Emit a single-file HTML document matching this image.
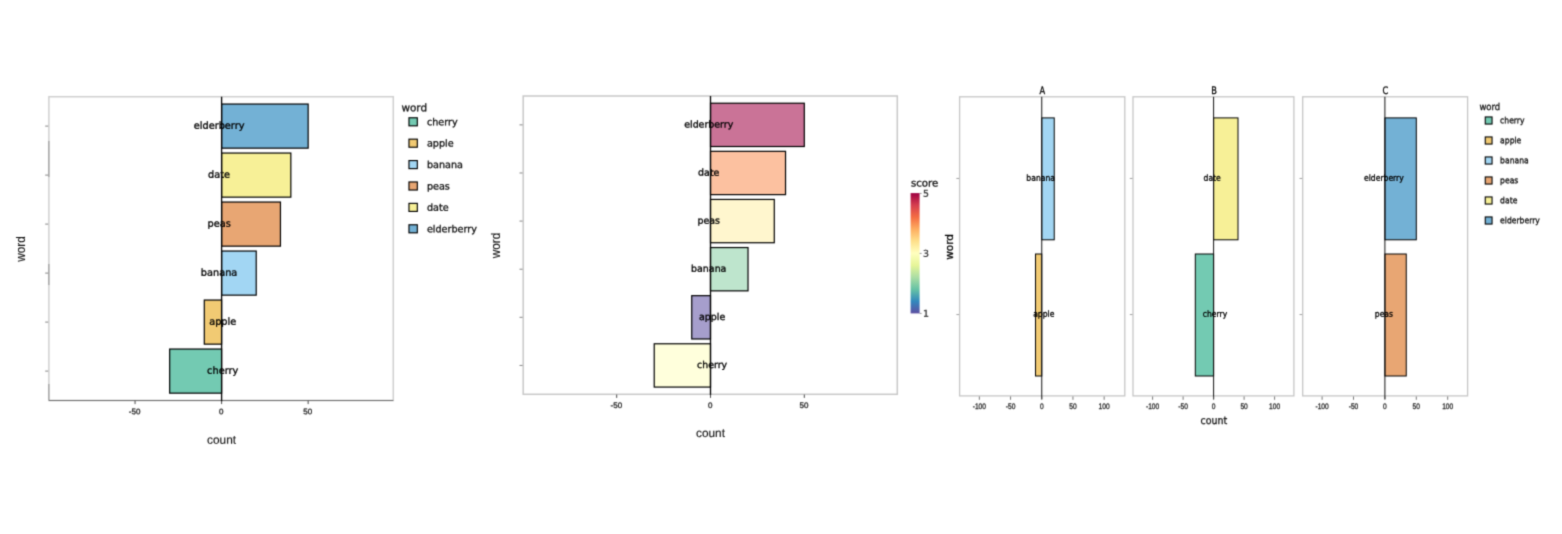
<!DOCTYPE html>
<html lang="en"><head><meta charset="utf-8"><title>Diverging bar charts</title>
<style>
html,body{margin:0;padding:0;background:#fff;}
body{width:1562px;height:534px;overflow:hidden;font-family:"Liberation Sans",sans-serif;}
svg{display:block;}
</style></head><body>
<svg width="1562" height="534" viewBox="0 0 1562 534">
<rect width="1562" height="534" fill="#fff"/>
<defs><filter id="soft" x="0" y="0" width="1562" height="534" filterUnits="userSpaceOnUse" color-interpolation-filters="sRGB"><feConvolveMatrix order="3" kernelMatrix="1 4 1 4 16 4 1 4 1" divisor="36" edgeMode="duplicate" preserveAlpha="true"/></filter></defs>
<g filter="url(#soft)">
<rect width="1562" height="534" fill="#fff"/>
<rect x="48.90" y="96.70" width="344.40" height="303.80" fill="#fff" stroke="#cfcfcf" stroke-width="1.5"/>
<line x1="45.20" y1="126.10" x2="48.20" y2="126.10" stroke="#666" stroke-width="0.8"/>
<line x1="45.20" y1="175.10" x2="48.20" y2="175.10" stroke="#666" stroke-width="0.8"/>
<line x1="45.20" y1="224.10" x2="48.20" y2="224.10" stroke="#666" stroke-width="0.8"/>
<line x1="45.20" y1="273.10" x2="48.20" y2="273.10" stroke="#666" stroke-width="0.8"/>
<line x1="45.20" y1="322.10" x2="48.20" y2="322.10" stroke="#666" stroke-width="0.8"/>
<line x1="45.20" y1="371.10" x2="48.20" y2="371.10" stroke="#666" stroke-width="0.8"/>
<line x1="48.90" y1="400.50" x2="393.30" y2="400.50" stroke="#666" stroke-width="0.9"/>
<line x1="48.90" y1="141.00" x2="48.90" y2="177.00" stroke="#777" stroke-width="0.7"/>
<line x1="48.90" y1="264.00" x2="48.90" y2="285.00" stroke="#777" stroke-width="0.7"/>
<line x1="48.90" y1="384.00" x2="48.90" y2="400.50" stroke="#777" stroke-width="0.7"/>
<rect x="221.60" y="104.05" width="86.55" height="44.10" fill="#73b1d5" stroke="#000" stroke-width="1.2"/>
<rect x="221.60" y="153.05" width="69.24" height="44.10" fill="#f7f097" stroke="#000" stroke-width="1.2"/>
<rect x="221.60" y="202.05" width="58.85" height="44.10" fill="#e8a673" stroke="#000" stroke-width="1.2"/>
<rect x="221.60" y="251.05" width="34.62" height="44.10" fill="#a2d6f3" stroke="#000" stroke-width="1.2"/>
<rect x="204.29" y="300.05" width="17.31" height="44.10" fill="#f1ca73" stroke="#000" stroke-width="1.2"/>
<rect x="169.67" y="349.05" width="51.93" height="44.10" fill="#73cab2" stroke="#000" stroke-width="1.2"/>
<line x1="221.60" y1="96.70" x2="221.60" y2="401.30" stroke="#000" stroke-width="1.3"/>
<text transform="translate(219.10,128.86) rotate(0.03)" font-size="9.75" font-family='"DejaVu Sans", "Liberation Sans", sans-serif' text-anchor="middle" fill="#000" stroke="#000" stroke-width="0.3">elderberry</text>
<text transform="translate(219.10,177.86) rotate(0.03)" font-size="9.75" font-family='"DejaVu Sans", "Liberation Sans", sans-serif' text-anchor="middle" fill="#000" stroke="#000" stroke-width="0.3">date</text>
<text transform="translate(219.10,226.86) rotate(0.03)" font-size="9.75" font-family='"DejaVu Sans", "Liberation Sans", sans-serif' text-anchor="middle" fill="#000" stroke="#000" stroke-width="0.3">peas</text>
<text transform="translate(219.10,275.86) rotate(0.03)" font-size="9.75" font-family='"DejaVu Sans", "Liberation Sans", sans-serif' text-anchor="middle" fill="#000" stroke="#000" stroke-width="0.3">banana</text>
<text transform="translate(222.70,324.86) rotate(0.03)" font-size="9.75" font-family='"DejaVu Sans", "Liberation Sans", sans-serif' text-anchor="middle" fill="#000" stroke="#000" stroke-width="0.3">apple</text>
<text transform="translate(222.70,373.86) rotate(0.03)" font-size="9.75" font-family='"DejaVu Sans", "Liberation Sans", sans-serif' text-anchor="middle" fill="#000" stroke="#000" stroke-width="0.3">cherry</text>
<line x1="135.05" y1="400.80" x2="135.05" y2="404.10" stroke="#333" stroke-width="0.9"/>
<text transform="translate(134.65,414.20) rotate(0.03)" font-size="8" font-family='"Liberation Sans", sans-serif' text-anchor="middle" fill="#222" stroke="#222" stroke-width="0.3">-50</text>
<line x1="221.60" y1="400.80" x2="221.60" y2="404.10" stroke="#333" stroke-width="0.9"/>
<text transform="translate(221.20,414.20) rotate(0.03)" font-size="8" font-family='"Liberation Sans", sans-serif' text-anchor="middle" fill="#222" stroke="#222" stroke-width="0.3">0</text>
<line x1="308.15" y1="400.80" x2="308.15" y2="404.10" stroke="#333" stroke-width="0.9"/>
<text transform="translate(307.75,414.20) rotate(0.03)" font-size="8" font-family='"Liberation Sans", sans-serif' text-anchor="middle" fill="#222" stroke="#222" stroke-width="0.3">50</text>
<text transform="translate(221.60,443.80) rotate(0.03)" font-size="11.85" font-family='"Liberation Sans", sans-serif' text-anchor="middle" fill="#111" stroke="#111" stroke-width="0.12">count</text>
<text transform="translate(25.30,249.00) rotate(-90)" font-size="11.85" font-family='"Liberation Sans", sans-serif' text-anchor="middle" fill="#111" stroke="#111" stroke-width="0.12">word</text>
<text transform="translate(401.40,111.20) rotate(0.03)" font-size="10.45" font-family='"DejaVu Sans", "Liberation Sans", sans-serif' text-anchor="start" fill="#111" stroke="#111" stroke-width="0.3">word</text>
<rect x="408.97" y="117.78" width="8.35" height="8.05" fill="#73cab2" stroke="#000" stroke-width="1.15"/>
<text transform="translate(426.90,125.20) rotate(0.03)" font-size="9.65" font-family='"DejaVu Sans", "Liberation Sans", sans-serif' text-anchor="start" fill="#111" stroke="#111" stroke-width="0.3">cherry</text>
<rect x="408.97" y="139.17" width="8.35" height="8.05" fill="#f1ca73" stroke="#000" stroke-width="1.15"/>
<text transform="translate(426.90,146.60) rotate(0.03)" font-size="9.65" font-family='"DejaVu Sans", "Liberation Sans", sans-serif' text-anchor="start" fill="#111" stroke="#111" stroke-width="0.3">apple</text>
<rect x="408.97" y="160.57" width="8.35" height="8.05" fill="#a2d6f3" stroke="#000" stroke-width="1.15"/>
<text transform="translate(426.90,168.00) rotate(0.03)" font-size="9.65" font-family='"DejaVu Sans", "Liberation Sans", sans-serif' text-anchor="start" fill="#111" stroke="#111" stroke-width="0.3">banana</text>
<rect x="408.97" y="181.97" width="8.35" height="8.05" fill="#e8a673" stroke="#000" stroke-width="1.15"/>
<text transform="translate(426.90,189.40) rotate(0.03)" font-size="9.65" font-family='"DejaVu Sans", "Liberation Sans", sans-serif' text-anchor="start" fill="#111" stroke="#111" stroke-width="0.3">peas</text>
<rect x="408.97" y="203.37" width="8.35" height="8.05" fill="#f7f097" stroke="#000" stroke-width="1.15"/>
<text transform="translate(426.90,210.80) rotate(0.03)" font-size="9.65" font-family='"DejaVu Sans", "Liberation Sans", sans-serif' text-anchor="start" fill="#111" stroke="#111" stroke-width="0.3">date</text>
<rect x="408.97" y="224.78" width="8.35" height="8.05" fill="#73b1d5" stroke="#000" stroke-width="1.15"/>
<text transform="translate(426.90,232.20) rotate(0.03)" font-size="9.65" font-family='"DejaVu Sans", "Liberation Sans", sans-serif' text-anchor="start" fill="#111" stroke="#111" stroke-width="0.3">elderberry</text>
<rect x="523.20" y="96.00" width="374.10" height="298.30" fill="#fff" stroke="#c8c8c8" stroke-width="1.5"/>
<line x1="519.50" y1="124.87" x2="522.50" y2="124.87" stroke="#666" stroke-width="0.8"/>
<line x1="519.50" y1="172.98" x2="522.50" y2="172.98" stroke="#666" stroke-width="0.8"/>
<line x1="519.50" y1="221.09" x2="522.50" y2="221.09" stroke="#666" stroke-width="0.8"/>
<line x1="519.50" y1="269.21" x2="522.50" y2="269.21" stroke="#666" stroke-width="0.8"/>
<line x1="519.50" y1="317.32" x2="522.50" y2="317.32" stroke="#666" stroke-width="0.8"/>
<line x1="519.50" y1="365.43" x2="522.50" y2="365.43" stroke="#666" stroke-width="0.8"/>
<rect x="710.50" y="103.22" width="93.80" height="43.30" fill="#ca7397" stroke="#000" stroke-width="1.2"/>
<rect x="710.50" y="151.33" width="75.04" height="43.30" fill="#fcc1a0" stroke="#000" stroke-width="1.2"/>
<rect x="710.50" y="199.44" width="63.78" height="43.30" fill="#fff6ce" stroke="#000" stroke-width="1.2"/>
<rect x="710.50" y="247.56" width="37.52" height="43.30" fill="#bee5cd" stroke="#000" stroke-width="1.2"/>
<rect x="691.74" y="295.67" width="18.76" height="43.30" fill="#a69ecc" stroke="#000" stroke-width="1.2"/>
<rect x="654.22" y="343.78" width="56.28" height="43.30" fill="#ffffdc" stroke="#000" stroke-width="1.2"/>
<line x1="710.50" y1="96.00" x2="710.50" y2="395.10" stroke="#000" stroke-width="1.3"/>
<text transform="translate(708.75,127.52) rotate(0.03)" font-size="9.45" font-family='"DejaVu Sans", "Liberation Sans", sans-serif' text-anchor="middle" fill="#000" stroke="#000" stroke-width="0.3">elderberry</text>
<text transform="translate(708.75,175.63) rotate(0.03)" font-size="9.45" font-family='"DejaVu Sans", "Liberation Sans", sans-serif' text-anchor="middle" fill="#000" stroke="#000" stroke-width="0.3">date</text>
<text transform="translate(708.75,223.75) rotate(0.03)" font-size="9.45" font-family='"DejaVu Sans", "Liberation Sans", sans-serif' text-anchor="middle" fill="#000" stroke="#000" stroke-width="0.3">peas</text>
<text transform="translate(708.75,271.86) rotate(0.03)" font-size="9.45" font-family='"DejaVu Sans", "Liberation Sans", sans-serif' text-anchor="middle" fill="#000" stroke="#000" stroke-width="0.3">banana</text>
<text transform="translate(712.10,319.97) rotate(0.03)" font-size="9.45" font-family='"DejaVu Sans", "Liberation Sans", sans-serif' text-anchor="middle" fill="#000" stroke="#000" stroke-width="0.3">apple</text>
<text transform="translate(712.10,368.08) rotate(0.03)" font-size="9.45" font-family='"DejaVu Sans", "Liberation Sans", sans-serif' text-anchor="middle" fill="#000" stroke="#000" stroke-width="0.3">cherry</text>
<line x1="616.70" y1="394.60" x2="616.70" y2="397.90" stroke="#333" stroke-width="0.9"/>
<text transform="translate(616.30,408.00) rotate(0.03)" font-size="8" font-family='"Liberation Sans", sans-serif' text-anchor="middle" fill="#222" stroke="#222" stroke-width="0.3">-50</text>
<line x1="710.50" y1="394.60" x2="710.50" y2="397.90" stroke="#333" stroke-width="0.9"/>
<text transform="translate(710.10,408.00) rotate(0.03)" font-size="8" font-family='"Liberation Sans", sans-serif' text-anchor="middle" fill="#222" stroke="#222" stroke-width="0.3">0</text>
<line x1="804.30" y1="394.60" x2="804.30" y2="397.90" stroke="#333" stroke-width="0.9"/>
<text transform="translate(803.90,408.00) rotate(0.03)" font-size="8" font-family='"Liberation Sans", sans-serif' text-anchor="middle" fill="#222" stroke="#222" stroke-width="0.3">50</text>
<text transform="translate(710.50,436.90) rotate(0.03)" font-size="11.85" font-family='"Liberation Sans", sans-serif' text-anchor="middle" fill="#111" stroke="#111" stroke-width="0.12">count</text>
<text transform="translate(499.60,245.50) rotate(-90)" font-size="11.85" font-family='"Liberation Sans", sans-serif' text-anchor="middle" fill="#111" stroke="#111" stroke-width="0.12">word</text>
<defs><linearGradient id="sp" x1="0" y1="1" x2="0" y2="0">
<stop offset="0.00" stop-color="#5E4FA2"/>
<stop offset="0.10" stop-color="#3288BD"/>
<stop offset="0.20" stop-color="#66C2A5"/>
<stop offset="0.30" stop-color="#ABDDA4"/>
<stop offset="0.40" stop-color="#E6F598"/>
<stop offset="0.50" stop-color="#FFFFBF"/>
<stop offset="0.60" stop-color="#FEE08B"/>
<stop offset="0.70" stop-color="#FDAE61"/>
<stop offset="0.80" stop-color="#F46D43"/>
<stop offset="0.90" stop-color="#D53E4F"/>
<stop offset="1.00" stop-color="#9E0142"/>
</linearGradient></defs>
<text transform="translate(910.90,186.50) rotate(0.03)" font-size="10.2" font-family='"DejaVu Sans", "Liberation Sans", sans-serif' text-anchor="start" fill="#111" stroke="#111" stroke-width="0.3">score</text>
<rect x="910.6" y="193.1" width="9" height="120.3" fill="url(#sp)"/>
<line x1="919.60" y1="193.40" x2="921.60" y2="193.40" stroke="#666" stroke-width="0.7"/>
<text transform="translate(922.90,196.80) rotate(0.03)" font-size="9.4" font-family='"DejaVu Sans", "Liberation Sans", sans-serif' text-anchor="start" fill="#333" stroke="#333" stroke-width="0.3">5</text>
<line x1="919.60" y1="253.40" x2="921.60" y2="253.40" stroke="#666" stroke-width="0.7"/>
<text transform="translate(922.90,256.80) rotate(0.03)" font-size="9.4" font-family='"DejaVu Sans", "Liberation Sans", sans-serif' text-anchor="start" fill="#333" stroke="#333" stroke-width="0.3">3</text>
<line x1="919.60" y1="313.40" x2="921.60" y2="313.40" stroke="#666" stroke-width="0.7"/>
<text transform="translate(922.90,316.80) rotate(0.03)" font-size="9.4" font-family='"DejaVu Sans", "Liberation Sans", sans-serif' text-anchor="start" fill="#333" stroke="#333" stroke-width="0.3">1</text>
<rect x="959.60" y="96.80" width="165.20" height="299.10" fill="#fff" stroke="#c6c6c6" stroke-width="1.3"/>
<text transform="translate(1042.25,94.30) rotate(0.03) scale(0.8,1)" font-size="10.3" font-family='"DejaVu Sans", "Liberation Sans", sans-serif' text-anchor="middle" fill="#000" stroke="#000" stroke-width="0.3">A</text>
<line x1="956.40" y1="178.45" x2="959.00" y2="178.45" stroke="#777" stroke-width="0.7"/>
<rect x="1041.75" y="117.90" width="12.48" height="121.90" fill="#a2d6f3" stroke="#000" stroke-width="1.0"/>
<line x1="956.40" y1="314.55" x2="959.00" y2="314.55" stroke="#777" stroke-width="0.7"/>
<rect x="1035.51" y="254.00" width="6.24" height="122.00" fill="#f1ca73" stroke="#000" stroke-width="1.0"/>
<line x1="1041.75" y1="96.80" x2="1041.75" y2="399.20" stroke="#111" stroke-width="1.0"/>
<text transform="translate(1040.65,180.75) rotate(0.03) scale(0.9,1)" font-size="8.5" font-family='"DejaVu Sans", "Liberation Sans", sans-serif' text-anchor="middle" fill="#000" stroke="#000" stroke-width="0.3">banana</text>
<text transform="translate(1043.75,316.85) rotate(0.03) scale(0.9,1)" font-size="8.5" font-family='"DejaVu Sans", "Liberation Sans", sans-serif' text-anchor="middle" fill="#000" stroke="#000" stroke-width="0.3">apple</text>
<line x1="979.35" y1="396.50" x2="979.35" y2="399.80" stroke="#555" stroke-width="0.8"/>
<text transform="translate(979.35,408.90) rotate(0.03) scale(0.83,1)" font-size="8" font-family='"Liberation Sans", sans-serif' text-anchor="middle" fill="#222" stroke="#222" stroke-width="0.3">-100</text>
<line x1="1010.55" y1="396.50" x2="1010.55" y2="399.80" stroke="#555" stroke-width="0.8"/>
<text transform="translate(1010.55,408.90) rotate(0.03) scale(0.83,1)" font-size="8" font-family='"Liberation Sans", sans-serif' text-anchor="middle" fill="#222" stroke="#222" stroke-width="0.3">-50</text>
<line x1="1041.75" y1="396.50" x2="1041.75" y2="399.80" stroke="#555" stroke-width="0.8"/>
<text transform="translate(1041.75,408.90) rotate(0.03) scale(0.83,1)" font-size="8" font-family='"Liberation Sans", sans-serif' text-anchor="middle" fill="#222" stroke="#222" stroke-width="0.3">0</text>
<line x1="1072.95" y1="396.50" x2="1072.95" y2="399.80" stroke="#555" stroke-width="0.8"/>
<text transform="translate(1072.95,408.90) rotate(0.03) scale(0.83,1)" font-size="8" font-family='"Liberation Sans", sans-serif' text-anchor="middle" fill="#222" stroke="#222" stroke-width="0.3">50</text>
<line x1="1104.15" y1="396.50" x2="1104.15" y2="399.80" stroke="#555" stroke-width="0.8"/>
<text transform="translate(1104.15,408.90) rotate(0.03) scale(0.83,1)" font-size="8" font-family='"Liberation Sans", sans-serif' text-anchor="middle" fill="#222" stroke="#222" stroke-width="0.3">100</text>
<rect x="1133.00" y="96.80" width="160.90" height="299.10" fill="#fff" stroke="#c6c6c6" stroke-width="1.3"/>
<text transform="translate(1214.10,94.30) rotate(0.03) scale(0.8,1)" font-size="10.3" font-family='"DejaVu Sans", "Liberation Sans", sans-serif' text-anchor="middle" fill="#000" stroke="#000" stroke-width="0.3">B</text>
<line x1="1129.80" y1="178.45" x2="1132.40" y2="178.45" stroke="#777" stroke-width="0.7"/>
<rect x="1213.60" y="117.90" width="24.40" height="121.90" fill="#f7f097" stroke="#000" stroke-width="1.0"/>
<line x1="1129.80" y1="314.55" x2="1132.40" y2="314.55" stroke="#777" stroke-width="0.7"/>
<rect x="1195.30" y="254.00" width="18.30" height="122.00" fill="#73cab2" stroke="#000" stroke-width="1.0"/>
<line x1="1213.60" y1="96.80" x2="1213.60" y2="399.20" stroke="#111" stroke-width="1.0"/>
<text transform="translate(1212.20,180.75) rotate(0.03) scale(0.9,1)" font-size="8.5" font-family='"DejaVu Sans", "Liberation Sans", sans-serif' text-anchor="middle" fill="#000" stroke="#000" stroke-width="0.3">date</text>
<text transform="translate(1215.00,316.85) rotate(0.03) scale(0.9,1)" font-size="8.5" font-family='"DejaVu Sans", "Liberation Sans", sans-serif' text-anchor="middle" fill="#000" stroke="#000" stroke-width="0.3">cherry</text>
<line x1="1152.60" y1="396.50" x2="1152.60" y2="399.80" stroke="#555" stroke-width="0.8"/>
<text transform="translate(1152.60,408.90) rotate(0.03) scale(0.83,1)" font-size="8" font-family='"Liberation Sans", sans-serif' text-anchor="middle" fill="#222" stroke="#222" stroke-width="0.3">-100</text>
<line x1="1183.10" y1="396.50" x2="1183.10" y2="399.80" stroke="#555" stroke-width="0.8"/>
<text transform="translate(1183.10,408.90) rotate(0.03) scale(0.83,1)" font-size="8" font-family='"Liberation Sans", sans-serif' text-anchor="middle" fill="#222" stroke="#222" stroke-width="0.3">-50</text>
<line x1="1213.60" y1="396.50" x2="1213.60" y2="399.80" stroke="#555" stroke-width="0.8"/>
<text transform="translate(1213.60,408.90) rotate(0.03) scale(0.83,1)" font-size="8" font-family='"Liberation Sans", sans-serif' text-anchor="middle" fill="#222" stroke="#222" stroke-width="0.3">0</text>
<line x1="1244.10" y1="396.50" x2="1244.10" y2="399.80" stroke="#555" stroke-width="0.8"/>
<text transform="translate(1244.10,408.90) rotate(0.03) scale(0.83,1)" font-size="8" font-family='"Liberation Sans", sans-serif' text-anchor="middle" fill="#222" stroke="#222" stroke-width="0.3">50</text>
<line x1="1274.60" y1="396.50" x2="1274.60" y2="399.80" stroke="#555" stroke-width="0.8"/>
<text transform="translate(1274.60,408.90) rotate(0.03) scale(0.83,1)" font-size="8" font-family='"Liberation Sans", sans-serif' text-anchor="middle" fill="#222" stroke="#222" stroke-width="0.3">100</text>
<rect x="1302.70" y="96.80" width="164.90" height="299.10" fill="#fff" stroke="#c6c6c6" stroke-width="1.3"/>
<text transform="translate(1385.40,94.30) rotate(0.03) scale(0.8,1)" font-size="10.3" font-family='"DejaVu Sans", "Liberation Sans", sans-serif' text-anchor="middle" fill="#000" stroke="#000" stroke-width="0.3">C</text>
<line x1="1299.50" y1="178.45" x2="1302.10" y2="178.45" stroke="#777" stroke-width="0.7"/>
<rect x="1384.90" y="117.90" width="31.40" height="121.90" fill="#73b1d5" stroke="#000" stroke-width="1.0"/>
<line x1="1299.50" y1="314.55" x2="1302.10" y2="314.55" stroke="#777" stroke-width="0.7"/>
<rect x="1384.90" y="254.00" width="21.35" height="122.00" fill="#e8a673" stroke="#000" stroke-width="1.0"/>
<line x1="1384.90" y1="96.80" x2="1384.90" y2="399.20" stroke="#111" stroke-width="1.0"/>
<text transform="translate(1383.90,180.75) rotate(0.03) scale(0.9,1)" font-size="8.5" font-family='"DejaVu Sans", "Liberation Sans", sans-serif' text-anchor="middle" fill="#000" stroke="#000" stroke-width="0.3">elderberry</text>
<text transform="translate(1383.90,316.85) rotate(0.03) scale(0.9,1)" font-size="8.5" font-family='"DejaVu Sans", "Liberation Sans", sans-serif' text-anchor="middle" fill="#000" stroke="#000" stroke-width="0.3">peas</text>
<line x1="1322.10" y1="396.50" x2="1322.10" y2="399.80" stroke="#555" stroke-width="0.8"/>
<text transform="translate(1322.10,408.90) rotate(0.03) scale(0.83,1)" font-size="8" font-family='"Liberation Sans", sans-serif' text-anchor="middle" fill="#222" stroke="#222" stroke-width="0.3">-100</text>
<line x1="1353.50" y1="396.50" x2="1353.50" y2="399.80" stroke="#555" stroke-width="0.8"/>
<text transform="translate(1353.50,408.90) rotate(0.03) scale(0.83,1)" font-size="8" font-family='"Liberation Sans", sans-serif' text-anchor="middle" fill="#222" stroke="#222" stroke-width="0.3">-50</text>
<line x1="1384.90" y1="396.50" x2="1384.90" y2="399.80" stroke="#555" stroke-width="0.8"/>
<text transform="translate(1384.90,408.90) rotate(0.03) scale(0.83,1)" font-size="8" font-family='"Liberation Sans", sans-serif' text-anchor="middle" fill="#222" stroke="#222" stroke-width="0.3">0</text>
<line x1="1416.30" y1="396.50" x2="1416.30" y2="399.80" stroke="#555" stroke-width="0.8"/>
<text transform="translate(1416.30,408.90) rotate(0.03) scale(0.83,1)" font-size="8" font-family='"Liberation Sans", sans-serif' text-anchor="middle" fill="#222" stroke="#222" stroke-width="0.3">50</text>
<line x1="1447.70" y1="396.50" x2="1447.70" y2="399.80" stroke="#555" stroke-width="0.8"/>
<text transform="translate(1447.70,408.90) rotate(0.03) scale(0.83,1)" font-size="8" font-family='"Liberation Sans", sans-serif' text-anchor="middle" fill="#222" stroke="#222" stroke-width="0.3">100</text>
<text transform="translate(1213.80,423.90) rotate(0.03) scale(0.9,1)" font-size="10.5" font-family='"DejaVu Sans", "Liberation Sans", sans-serif' text-anchor="middle" fill="#111" stroke="#111" stroke-width="0.3">count</text>
<text transform="translate(953.10,246.90) rotate(-90)" font-size="10.55" font-family='"DejaVu Sans", "Liberation Sans", sans-serif' text-anchor="middle" fill="#000" stroke="#000" stroke-width="0.3">word</text>
<text transform="translate(1479.40,110.00) rotate(0.03) scale(0.9,1)" font-size="9.4" font-family='"DejaVu Sans", "Liberation Sans", sans-serif' text-anchor="start" fill="#111" stroke="#111" stroke-width="0.3">word</text>
<rect x="1485.25" y="116.95" width="6.80" height="7.10" fill="#73cab2" stroke="#000" stroke-width="1.1"/>
<text transform="translate(1500.10,123.25) rotate(0.03) scale(0.9,1)" font-size="8.5" font-family='"DejaVu Sans", "Liberation Sans", sans-serif' text-anchor="start" fill="#111" stroke="#111" stroke-width="0.3">cherry</text>
<rect x="1485.25" y="136.95" width="6.80" height="7.10" fill="#f1ca73" stroke="#000" stroke-width="1.1"/>
<text transform="translate(1500.10,143.25) rotate(0.03) scale(0.9,1)" font-size="8.5" font-family='"DejaVu Sans", "Liberation Sans", sans-serif' text-anchor="start" fill="#111" stroke="#111" stroke-width="0.3">apple</text>
<rect x="1485.25" y="156.95" width="6.80" height="7.10" fill="#a2d6f3" stroke="#000" stroke-width="1.1"/>
<text transform="translate(1500.10,163.25) rotate(0.03) scale(0.9,1)" font-size="8.5" font-family='"DejaVu Sans", "Liberation Sans", sans-serif' text-anchor="start" fill="#111" stroke="#111" stroke-width="0.3">banana</text>
<rect x="1485.25" y="176.95" width="6.80" height="7.10" fill="#e8a673" stroke="#000" stroke-width="1.1"/>
<text transform="translate(1500.10,183.25) rotate(0.03) scale(0.9,1)" font-size="8.5" font-family='"DejaVu Sans", "Liberation Sans", sans-serif' text-anchor="start" fill="#111" stroke="#111" stroke-width="0.3">peas</text>
<rect x="1485.25" y="196.95" width="6.80" height="7.10" fill="#f7f097" stroke="#000" stroke-width="1.1"/>
<text transform="translate(1500.10,203.25) rotate(0.03) scale(0.9,1)" font-size="8.5" font-family='"DejaVu Sans", "Liberation Sans", sans-serif' text-anchor="start" fill="#111" stroke="#111" stroke-width="0.3">date</text>
<rect x="1485.25" y="216.95" width="6.80" height="7.10" fill="#73b1d5" stroke="#000" stroke-width="1.1"/>
<text transform="translate(1500.10,223.25) rotate(0.03) scale(0.9,1)" font-size="8.5" font-family='"DejaVu Sans", "Liberation Sans", sans-serif' text-anchor="start" fill="#111" stroke="#111" stroke-width="0.3">elderberry</text>
</g>
</svg>
</body></html>
